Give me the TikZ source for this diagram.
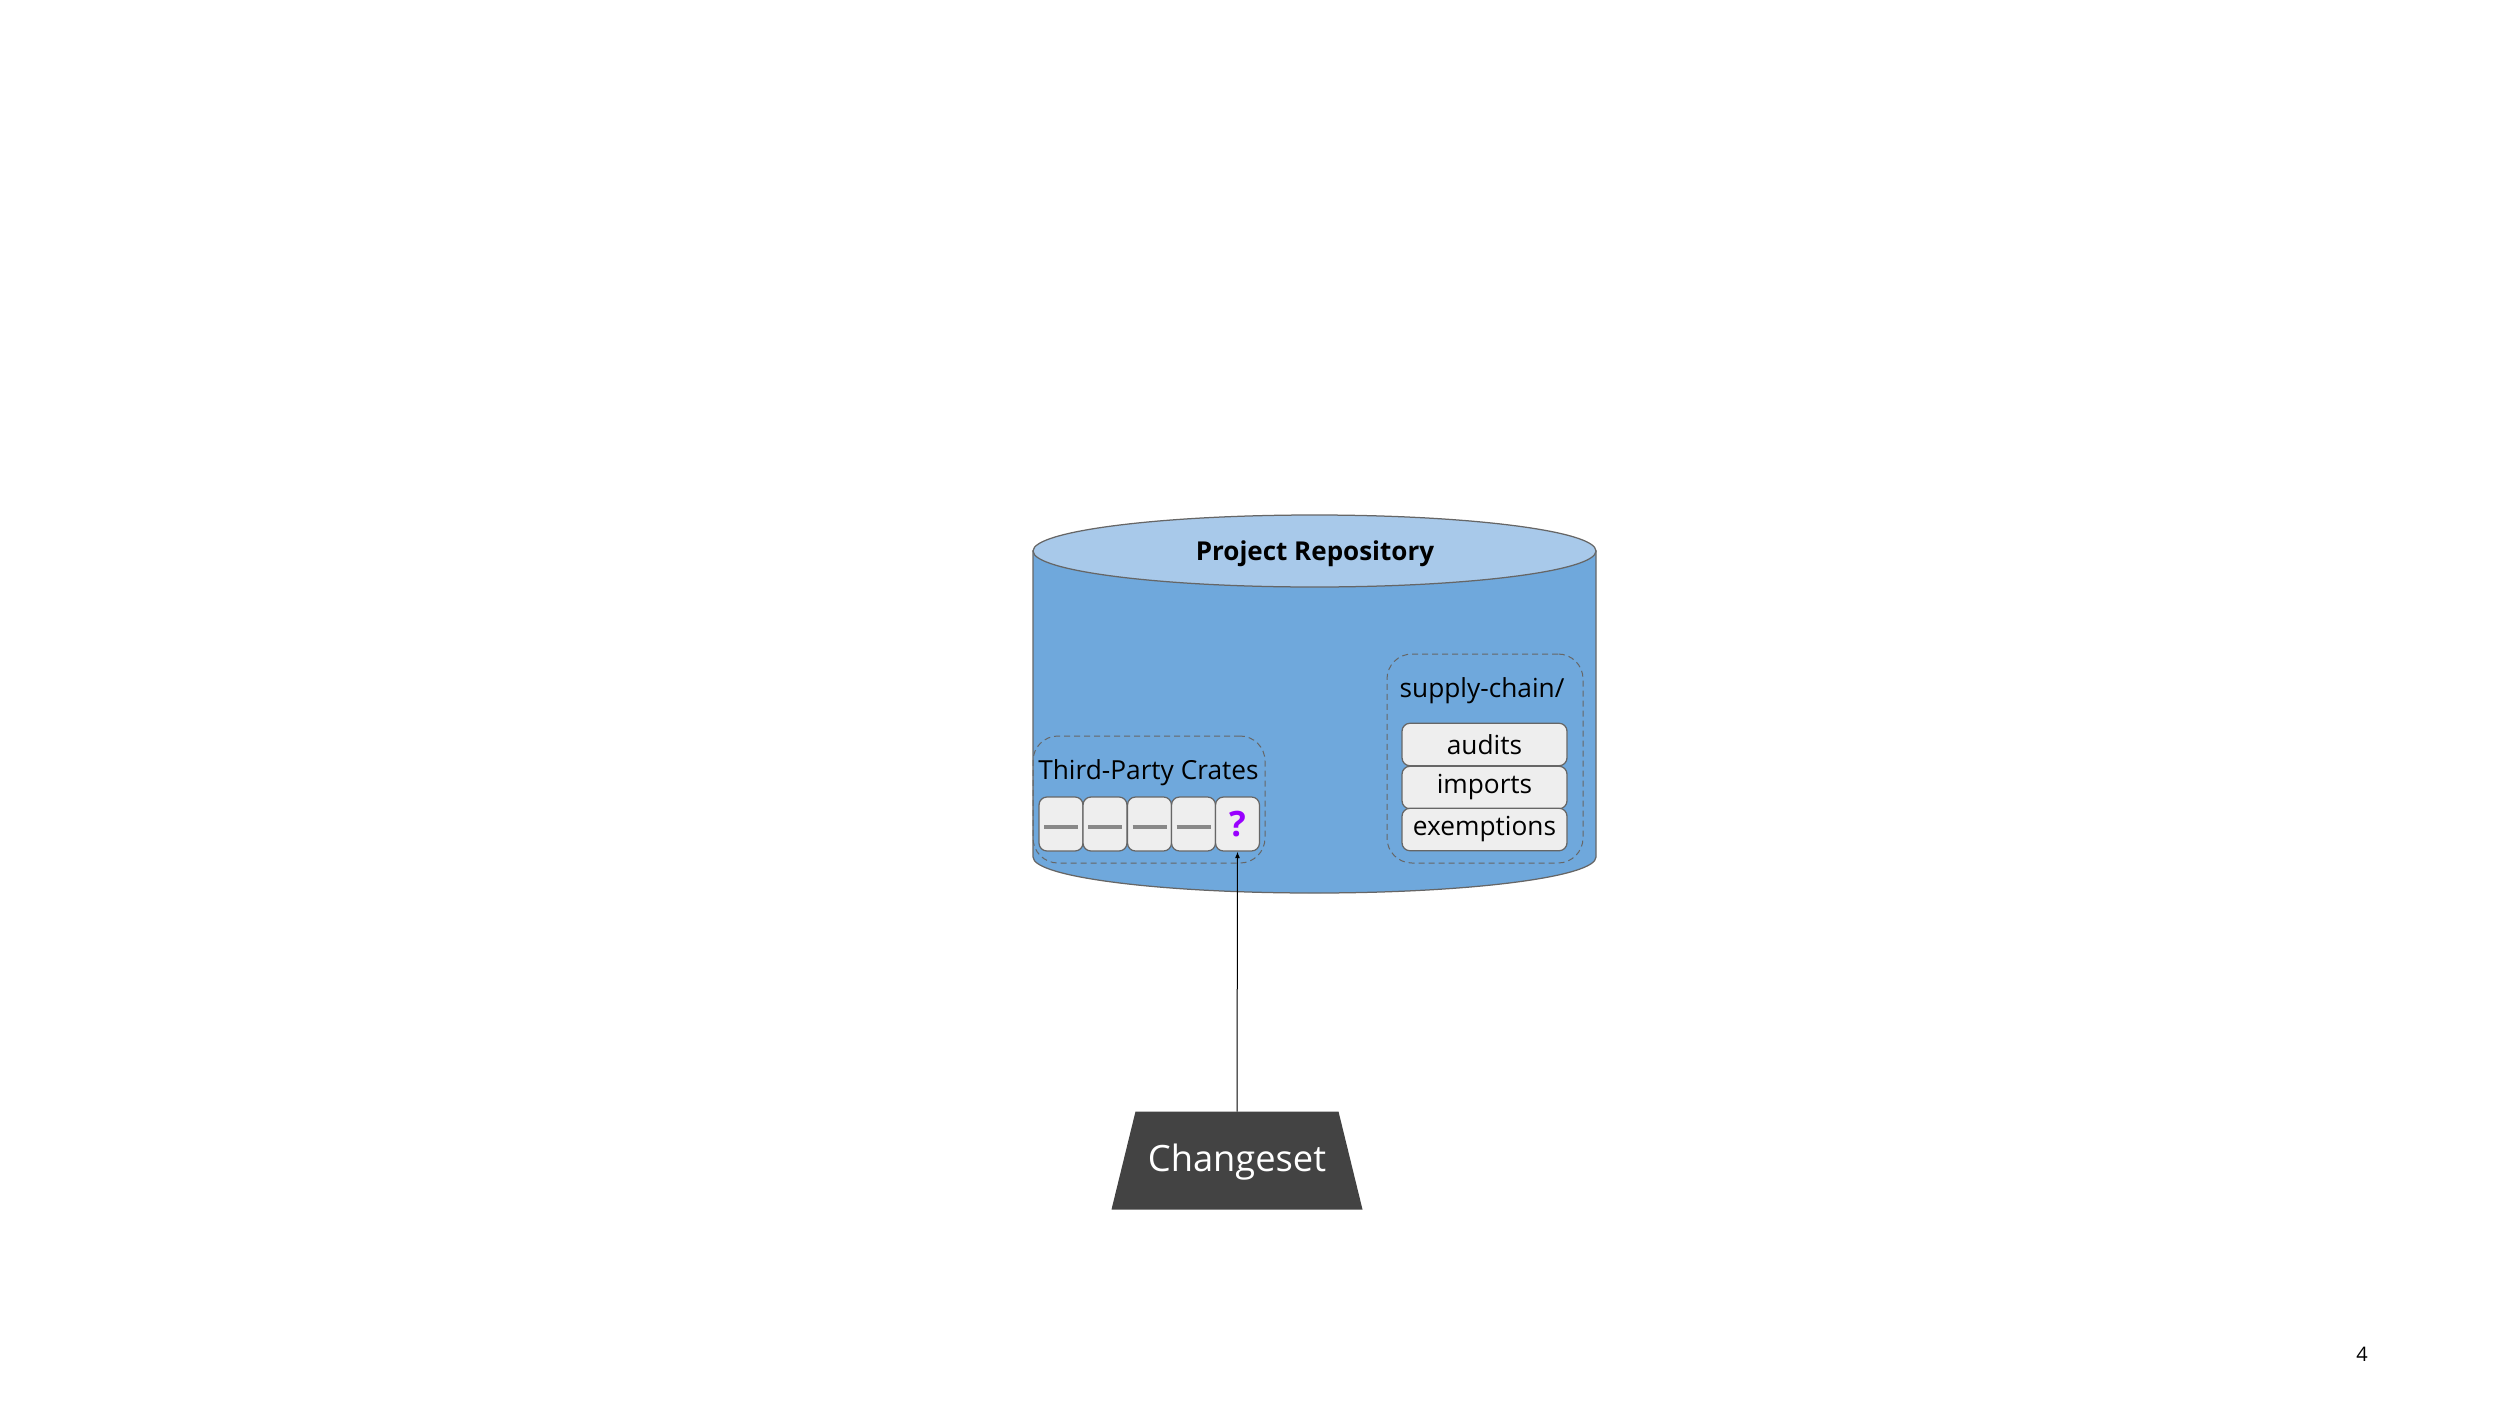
\documentclass[tikz,border=0pt]{standalone}
\usepackage{fontspec}
\setmainfont{Open Sans}
\usetikzlibrary{shapes.geometric,arrows.meta}
\definecolor{cylbodyc}{HTML}{6FA8DC}
\definecolor{cyltopc}{HTML}{A8C9EA}
\definecolor{boxfill}{HTML}{EEEEEE}
\definecolor{edgegray}{HTML}{666666}
\definecolor{bargray}{HTML}{888888}
\definecolor{qpurple}{HTML}{9900FF}
\definecolor{csfill}{HTML}{434343}
\tikzset{
  cylbody/.style={fill=cylbodyc, draw=edgegray, line width=0.5pt},
  cyltop/.style={fill=cyltopc, draw=edgegray, line width=0.5pt},
  groupbox/.style={draw=edgegray, dash pattern=on 2.4pt off 1.6pt, line width=0.4pt, rounded corners=10pt, inner sep=0pt},
  cratebox/.style={draw=edgegray, fill=boxfill, line width=0.5pt, rounded corners=3.2pt, minimum width=17.6pt, minimum height=21.6pt, inner sep=0pt},
  filebox/.style={draw=edgegray, fill=boxfill, line width=0.5pt, rounded corners=3.2pt, minimum width=66pt, minimum height=17pt, inner sep=0pt, font=\fontsize{10.5pt}{12pt}\selectfont},
  bar/.style={draw=bargray, line width=1.6pt},
  label/.style={font=\fontsize{10.5pt}{12pt}\selectfont, inner sep=0pt},
  csframe/.style={minimum width=100pt, minimum height=38.8pt, inner sep=0pt},
  cstext/.style={text=white, font=\fontsize{14.5pt}{16pt}\selectfont, inner sep=0pt},
  conn/.style={draw=black, line width=0.4pt, -{Latex[length=2.6pt,width=2pt]}}
}
\begin{document}
\begin{tikzpicture}[x=0.4pt,y=-0.4pt]
\useasboundingbox (0,0) rectangle (2500,1406);
% cylinder
\path[cylbody] (1033,551) -- (1033,857) arc[start angle=180,end angle=360,x radius=112.6pt,y radius=14.4pt] -- (1596,551) -- cycle;
\path[cyltop] (1314.5,551) ellipse[x radius=112.6pt,y radius=14.4pt];
\node[font=\bfseries\fontsize{10.4pt}{12pt}\selectfont, inner sep=0pt] (repo) at (1315,554) {Project Repository};
% third-party crates group
\node[groupbox, minimum width=92.8pt, minimum height=50.8pt] (tpc) at (1149,799.5) {};
\node[label, anchor=base] (tpclabel) at (1148.5,779) {Third-Party Crates};
\node[cratebox] (c1) at (1061,824) {};
\node[cratebox] (c2) at (1105,824) {};
\node[cratebox] (c3) at (1149.5,824) {};
\node[cratebox] (c4) at (1193.5,824) {};
\node[cratebox, text=qpurple, font=\bfseries\fontsize{14pt}{15pt}\selectfont] (c5) at (1237.5,824) {?};
\foreach \n in {c1,c2,c3,c4}{
  \draw[bar] ([xshift=-6.8pt,yshift=-1.2pt]\n.center) -- ([xshift=6.8pt,yshift=-1.2pt]\n.center);
}
% supply-chain group
\node[groupbox, minimum width=78.4pt, minimum height=83.6pt] (sc) at (1485,758.5) {};
\node[label, anchor=base] (sclabel) at (1482,697) {supply-chain/};
\node[filebox] (audits) at (1484.5,744.5) {audits};
\node[filebox] (imports) at (1484.5,787.5) {imports};
\node[filebox] (exemptions) at (1484.5,829.5) {exemptions};
% changeset
\node[csframe] (cs) at (1237,1160.5) {};
\fill[csfill] (cs.south west) -- (cs.south east) -- ([xshift=-9.6pt]cs.north east) -- ([xshift=9.6pt]cs.north west) -- cycle;
\node[cstext] (cslabel) at (1237,1162) {Changeset};
\draw[conn] (cs.north) -- (c5.south);
% page number
\node[font=\fontsize{8pt}{9pt}\selectfont, inner sep=0pt] (pagenum) at (2362,1354) {4};
\end{tikzpicture}
\end{document}
